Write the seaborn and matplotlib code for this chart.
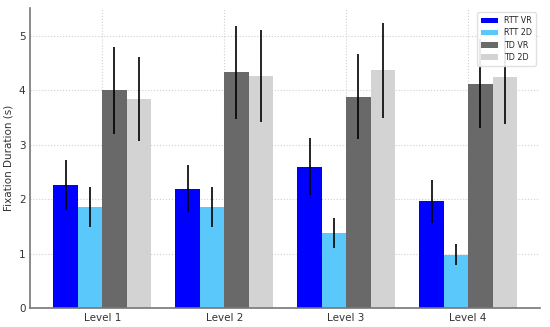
import matplotlib
matplotlib.use("Agg")
from matplotlib import pyplot as plt
import seaborn as sns
import numpy as np
import pandas as pd

levels = ["Level 1", "Level 2", "Level 3", "Level 4"]
groups = ["RTT VR", "RTT 2D", "TD VR", "TD 2D"]

rtt_vr = [2.26, 2.19, 2.60, 1.96]
rtt_2d = [1.86, 1.85, 1.38, 0.98]
td_vr = [4.00, 4.33, 3.88, 4.12]
td_2d = [3.84, 4.26, 4.37, 4.24]

rtt_vr_err = [0.46, 0.43, 0.52, 0.40]
rtt_2d_err = [0.37, 0.37, 0.27, 0.19]
td_vr_err = [0.80, 0.86, 0.78, 0.82]
td_2d_err = [0.77, 0.85, 0.87, 0.86]

means = [rtt_vr, rtt_2d, td_vr, td_2d]
errs = [rtt_vr_err, rtt_2d_err, td_vr_err, td_2d_err]
colors = ["#0000FF", "#5AC8FA", "#696969", "#D3D3D3"]

df = pd.DataFrame({
    "Level": np.tile(levels, len(groups)),
    "Group": np.repeat(groups, len(levels)),
    "Duration": np.concatenate(means),
})

sns.set_style("white")
fig, ax = plt.subplots(figsize=(5.5, 3.27), dpi=100)
sns.barplot(data=df, x="Level", y="Duration", hue="Group", palette=colors,
            errorbar=None, saturation=1, width=0.8, linewidth=0, gap=0, ax=ax)

for j, (m, e) in enumerate(zip(means, errs)):
    xs = np.arange(len(levels)) + (j - 1.5) * 0.2
    ax.errorbar(xs, m, yerr=e, fmt="none", ecolor="black", elinewidth=1.2, capsize=0)

ax.set_xlim(-0.59, 3.59)
ax.set_ylim(0, 5.51)
ax.set_xlabel("")
ax.set_ylabel("Fixation Duration (s)", fontsize=7.5, color="#333333")
ax.tick_params(labelsize=7.5, length=0, colors="#333333")
ax.grid(True, linestyle=":", color="#d0d0d0", linewidth=0.8)
ax.set_axisbelow(True)
for s in ["top", "right"]:
    ax.spines[s].set_visible(False)
for s in ["left", "bottom"]:
    ax.spines[s].set_color("#777777")
    ax.spines[s].set_linewidth(1.2)

ax.legend(loc="upper right", fontsize=5.8, frameon=True, framealpha=0.9,
          edgecolor="#dddddd", handlelength=2.0, borderpad=0.5, labelspacing=0.4)

fig.subplots_adjust(left=0.055, right=0.982, top=0.975, bottom=0.058)
fig.savefig("out.png", dpi=100)
